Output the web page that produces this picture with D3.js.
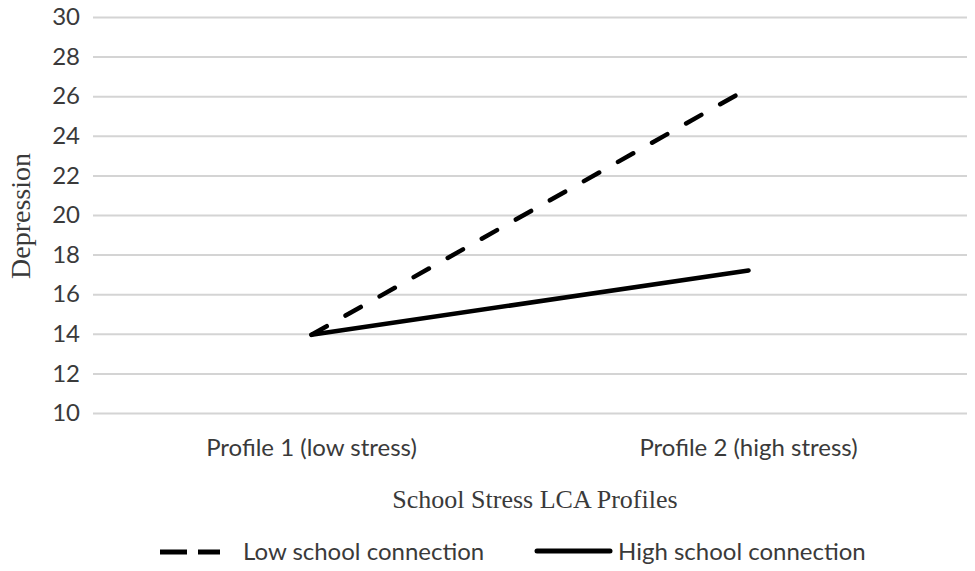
<!DOCTYPE html>
<html>
<head>
<meta charset="utf-8">
<script src="https://cdn.jsdelivr.net/npm/d3@7"></script>
<style>
  body { margin: 0; background: #fff; }
  svg { display: block; }
</style>
</head>
<body>
<div id="chart"></div>
<script>
// data
const profiles = ["Profile 1 (low stress)", "Profile 2 (high stress)"]
const lowConnection = [13.95, 26.4]
const highConnection = [13.95, 17.2]
const yTicks = [10, 12, 14, 16, 18, 20, 22, 24, 26, 28, 30]
const seriesNames = ["Low school connection", "High school connection"]

const width = 975
const height = 571
const margin = {top: 17, right: 8, bottom: 158, left: 93}
const sansFont = "Lato, sans-serif"
const serifFont = "'Liberation Serif', serif"
const textColor = "#3a3a3a"

const svg = d3.select("#chart").append("svg")
    .attr("width", width)
    .attr("height", height)

svg.append("rect").attr("width", width).attr("height", height).attr("fill", "#fff")

const xScale = d3.scaleBand()
    .domain(profiles)
    .range([margin.left, width - margin.right])
    .padding(0)

const yScale = d3.scaleLinear()
    .domain([10, 30])
    .range([height - margin.bottom, margin.top])

const xc = d => xScale(d) + xScale.bandwidth() / 2

// gridlines + y labels
const yAxis = svg.append("g")
    .attr("transform", `translate(${margin.left},0)`)
    .call(d3.axisLeft(yScale)
        .tickValues(yTicks)
        .tickSize(-(width - margin.left - margin.right))
        .tickPadding(13))
yAxis.select(".domain").remove()
yAxis.selectAll(".tick line").attr("stroke", "#d4d4d4").attr("stroke-width", 2)
yAxis.selectAll(".tick text")
    .attr("fill", textColor)
    .style("font-family", sansFont)
    .style("font-size", "24px")

// x labels
const xAxis = svg.append("g")
    .attr("transform", `translate(0,${height - margin.bottom})`)
    .call(d3.axisBottom(xScale).tickSize(0).tickPadding(26))
xAxis.select(".domain").remove()
xAxis.selectAll(".tick text")
    .attr("fill", textColor)
    .style("font-family", sansFont)
    .style("font-size", "24px")

// lines
const line = d3.line()
    .x((d, i) => xc(profiles[i]))
    .y(d => yScale(d))

svg.append("path")
    .datum(highConnection)
    .attr("d", line)
    .attr("fill", "none")
    .attr("stroke", "#000")
    .attr("stroke-width", 4.5)
    .attr("stroke-linecap", "round")

svg.append("path")
    .datum(lowConnection)
    .attr("d", line)
    .attr("fill", "none")
    .attr("stroke", "#000")
    .attr("stroke-width", 4.5)
    .attr("stroke-linecap", "round")
    .attr("stroke-dasharray", "17.5 21.6")

// axis titles
svg.append("text")
    .attr("transform", "translate(30,216) rotate(-90)")
    .attr("text-anchor", "middle")
    .attr("fill", textColor)
    .style("font-family", serifFont)
    .style("font-size", "28px")
    .text("Depression")

svg.append("text")
    .attr("x", 535)
    .attr("y", 508)
    .attr("text-anchor", "middle")
    .attr("fill", textColor)
    .style("font-family", serifFont)
    .style("font-size", "26px")
    .text("School Stress LCA Profiles")

// legend
const legend = svg.append("g")
legend.append("line")
    .attr("x1", 160).attr("x2", 220).attr("y1", 552).attr("y2", 552)
    .attr("stroke", "#000").attr("stroke-width", 5)
    .attr("stroke-dasharray", "27 11")
legend.append("text")
    .attr("x", 243).attr("y", 560)
    .attr("fill", textColor)
    .style("font-family", sansFont)
    .style("font-size", "24px")
    .text(seriesNames[0])
legend.append("line")
    .attr("x1", 537).attr("x2", 610).attr("y1", 551).attr("y2", 551)
    .attr("stroke", "#000").attr("stroke-width", 5)
    .attr("stroke-linecap", "round")
legend.append("text")
    .attr("x", 618).attr("y", 560)
    .attr("fill", textColor)
    .style("font-family", sansFont)
    .style("font-size", "24px")
    .text(seriesNames[1])
</script>
</body>
</html>
